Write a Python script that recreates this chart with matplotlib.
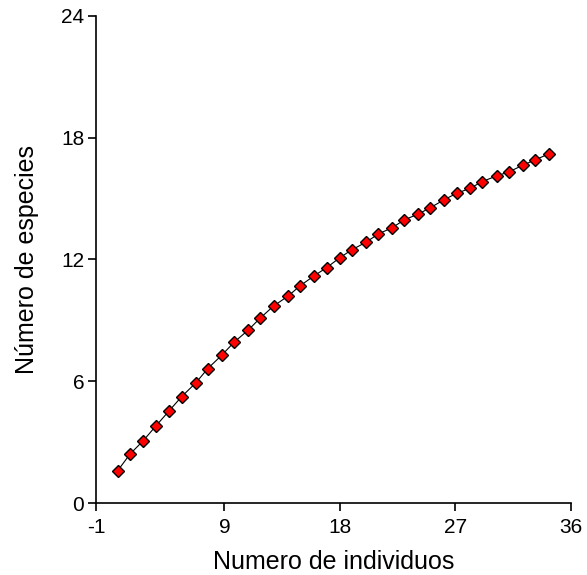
import matplotlib.pyplot as plt

plt.rcParams['font.family'] = ['Liberation Sans', 'DejaVu Sans']
plt.rcParams['axes.unicode_minus'] = False

# valores
individuos = [0.69, 1.65, 2.68, 3.67, 4.71, 5.67, 6.79, 7.70, 8.84, 9.75,
              10.84, 11.77, 12.84, 13.97, 14.89, 15.98, 16.97, 18.00, 18.91, 20.03,
              21.00, 22.08, 23.01, 24.10, 25.04, 26.13, 27.09, 28.15, 29.09, 30.21,
              31.14, 32.23, 33.17, 34.26]
especies = [1.59, 2.41, 3.07, 3.80, 4.55, 5.24, 5.93, 6.62, 7.31, 7.92,
            8.51, 9.10, 9.71, 10.20, 10.70, 11.19, 11.60, 12.09, 12.47, 12.85,
            13.26, 13.57, 13.95, 14.24, 14.55, 14.95, 15.26, 15.51, 15.84, 16.12,
            16.31, 16.64, 16.90, 17.20]

xticks = [-1, 9, 18, 27, 36]
yticks = [0, 6, 12, 18, 24]

fig = plt.figure(figsize=(5.87, 5.75), dpi=100)
ax = fig.add_axes([0.1635, 0.1252, 0.8092, 0.847])

ax.plot(individuos, especies, color='black', linewidth=0.8,
        marker='D', markersize=6.5, markerfacecolor='#ff0000',
        markeredgecolor='black', markeredgewidth=1.0)

ax.set_xlim(-1, 36)
ax.set_ylim(0, 24)
ax.set_xticks(xticks)
ax.set_yticks(yticks)

# solo ejes izquierdo e inferior
ax.spines['top'].set_visible(False)
ax.spines['right'].set_visible(False)
ax.spines['left'].set_linewidth(1.2)
ax.spines['bottom'].set_linewidth(1.2)
ax.tick_params(direction='out', length=6, width=1.2, labelsize=15)
ax.tick_params(axis='x', pad=5)
ax.tick_params(axis='y', pad=2.5)

ax.set_xlabel('Numero de individuos', fontsize=18, labelpad=9)
ax.set_ylabel('Número de especies', fontsize=18, labelpad=16)

fig.savefig('out.png', dpi=100)
